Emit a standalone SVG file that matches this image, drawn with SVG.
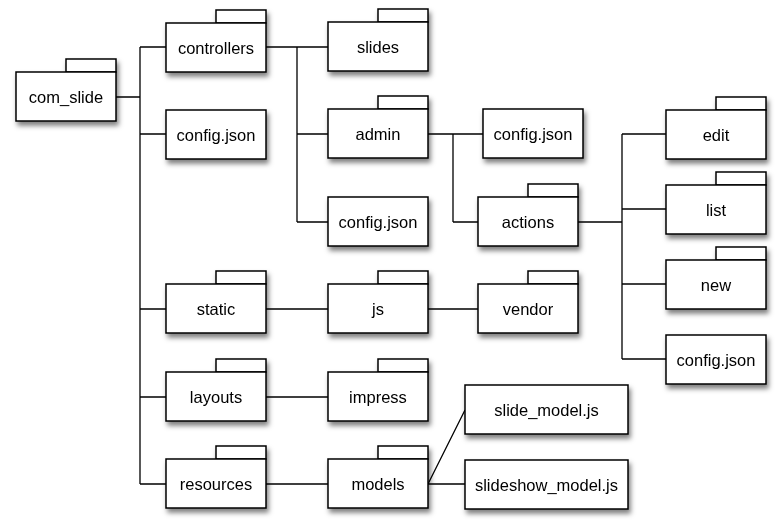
<svg xmlns="http://www.w3.org/2000/svg" width="780" height="530" viewBox="0 0 780 530">
<style>
.b{fill:#fff;stroke:#000;stroke-width:1.5}
.t{font-family:"Liberation Sans",Arial,sans-serif;font-size:16.5px;text-anchor:middle;fill:#000}
.c{fill:none;stroke:#000;stroke-width:1.3}
</style>
<defs>
<filter id="sh" x="-20%" y="-20%" width="150%" height="160%">
<feDropShadow dx="2" dy="4" stdDeviation="2.5" flood-color="#000" flood-opacity="0.5"/>
</filter>
<g id="fold">
<rect class="b" x="50" y="-13" width="50" height="13"/>
<rect class="b" x="0" y="0" width="100" height="49"/>
</g>
<g id="box">
<rect class="b" x="0" y="0" width="100" height="49"/>
</g>
<g id="wbox">
<rect class="b" x="0" y="0" width="163" height="49"/>
</g>
</defs>
<rect width="780" height="530" fill="#fff"/>
<g id="connectors">
<path class="c" d="M116 97H140M140 47V484M140 47H166M140 134H166M140 309H166M140 397H166M140 484H166"/>
<path class="c" d="M265 47H297M297 47V222M297 47H328M297 134H328M297 222H328"/>
<path class="c" d="M428 134H453M453 134V222M453 134H483M453 222H478"/>
<path class="c" d="M578 222H622M622 134V359M622 134H666M622 209H666M622 284H666M622 359H666"/>
<path class="c" d="M265 309H328M428 309H478M265 397H328M265 484H328"/>
<path class="c" d="M428 484L465 410M428 484H465"/>
</g>
<g id="com_slide" filter="url(#sh)"><use href="#fold" x="16" y="72"/><text class="t" x="66" y="102.5">com_slide</text></g>
<g id="controllers" filter="url(#sh)"><use href="#fold" x="166" y="23"/><text class="t" x="216" y="53.5">controllers</text></g>
<g id="config1" filter="url(#sh)"><use href="#box" x="166" y="110"/><text class="t" x="216" y="140.5">config.json</text></g>
<g id="slides" filter="url(#sh)"><use href="#fold" x="328" y="22"/><text class="t" x="378" y="52.5">slides</text></g>
<g id="admin" filter="url(#sh)"><use href="#fold" x="328" y="109"/><text class="t" x="378" y="139.5">admin</text></g>
<g id="config2" filter="url(#sh)"><use href="#box" x="328" y="197"/><text class="t" x="378" y="227.5">config.json</text></g>
<g id="config3" filter="url(#sh)"><use href="#box" x="483" y="109"/><text class="t" x="533" y="139.5">config.json</text></g>
<g id="actions" filter="url(#sh)"><use href="#fold" x="478" y="197"/><text class="t" x="528" y="227.5">actions</text></g>
<g id="edit" filter="url(#sh)"><use href="#fold" x="666" y="110"/><text class="t" x="716" y="140.5">edit</text></g>
<g id="list" filter="url(#sh)"><use href="#fold" x="666" y="185"/><text class="t" x="716" y="215.5">list</text></g>
<g id="new" filter="url(#sh)"><use href="#fold" x="666" y="260"/><text class="t" x="716" y="290.5">new</text></g>
<g id="config4" filter="url(#sh)"><use href="#box" x="666" y="335"/><text class="t" x="716" y="365.5">config.json</text></g>
<g id="static" filter="url(#sh)"><use href="#fold" x="166" y="284"/><text class="t" x="216" y="314.5">static</text></g>
<g id="js" filter="url(#sh)"><use href="#fold" x="328" y="284"/><text class="t" x="378" y="314.5">js</text></g>
<g id="vendor" filter="url(#sh)"><use href="#fold" x="478" y="284"/><text class="t" x="528" y="314.5">vendor</text></g>
<g id="layouts" filter="url(#sh)"><use href="#fold" x="166" y="372"/><text class="t" x="216" y="402.5">layouts</text></g>
<g id="impress" filter="url(#sh)"><use href="#fold" x="328" y="372"/><text class="t" x="378" y="402.5">impress</text></g>
<g id="resources" filter="url(#sh)"><use href="#fold" x="166" y="459"/><text class="t" x="216" y="489.5">resources</text></g>
<g id="models" filter="url(#sh)"><use href="#fold" x="328" y="459"/><text class="t" x="378" y="489.5">models</text></g>
<g id="slide_model" filter="url(#sh)"><use href="#wbox" x="465" y="385"/><text class="t" x="546.5" y="415.5">slide_model.js</text></g>
<g id="slideshow_model" filter="url(#sh)"><use href="#wbox" x="465" y="460"/><text class="t" x="546.5" y="490.5">slideshow_model.js</text></g>
</svg>
